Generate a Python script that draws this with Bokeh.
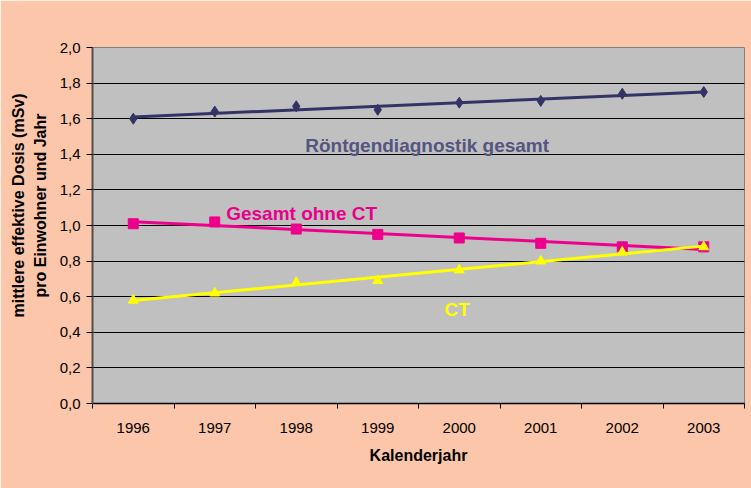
import numpy as np
from bokeh.plotting import figure
from bokeh.models import FixedTicker, CustomJSTickFormatter, Label, Range1d
from bokeh.embed import file_html
from bokeh.resources import INLINE

# ---- data ----
years = [1996, 1997, 1998, 1999, 2000, 2001, 2002, 2003]
roentgen = [1.60, 1.64, 1.67, 1.65, 1.69, 1.70, 1.74, 1.75]
ohne_ct = [1.01, 1.02, 0.98, 0.95, 0.93, 0.90, 0.88, 0.88]
ct = [0.58, 0.62, 0.68, 0.69, 0.75, 0.80, 0.85, 0.88]
y_ticks = [0.0, 0.2, 0.4, 0.6, 0.8, 1.0, 1.2, 1.4, 1.6, 1.8, 2.0]

FONT = "Liberation Sans"
PEACH = "#FBC6A9"
NAVY = "#333366"
PINK = "#EC008C"
YELLOW = "#FFFF00"

p = figure(width=751, height=488, output_backend="svg", toolbar_location=None,
           x_range=Range1d(years[0] - 0.5, years[-1] + 0.5),
           y_range=Range1d(y_ticks[0], y_ticks[-1]),
           min_border_left=92, min_border_right=7, min_border_top=47,
           min_border_bottom=85)
p.background_fill_color = "#C0C0C0"
p.border_fill_color = PEACH
p.outline_line_color = "#808080"
p.outline_line_width = 1

# grid
p.xgrid.grid_line_color = None
p.ygrid.ticker = FixedTicker(ticks=y_ticks)
p.ygrid.grid_line_color = "#000000"
p.ygrid.grid_line_width = 1

# y axis
p.yaxis.ticker = FixedTicker(ticks=y_ticks)
p.yaxis.formatter = CustomJSTickFormatter(code="return tick.toFixed(1).replace('.', ',');")
p.yaxis.axis_line_color = "#505050"
p.yaxis.axis_line_width = 2
p.yaxis.major_tick_out = 6
p.yaxis.major_tick_in = 0
p.yaxis.major_tick_line_color = "#000000"
p.yaxis.minor_tick_line_color = None
p.yaxis.major_label_standoff = 6
p.yaxis.major_label_text_font = FONT
p.yaxis.major_label_text_font_size = "15px"
p.yaxis.major_label_text_color = "#000000"
pad = "\u00a0" * 9
p.yaxis.axis_label = pad + "mittlere effektive Dosis (mSv)\n" + pad + "pro Einwohner und Jahr"
p.yaxis.axis_label_text_font = FONT
p.yaxis.axis_label_text_font_size = "16px"
p.yaxis.axis_label_text_font_style = "bold"
p.yaxis.axis_label_text_color = "#000000"
p.yaxis.axis_label_text_line_height = 1.3
p.yaxis.axis_label_standoff = 8

# x axis
bounds = [y - 0.5 for y in years] + [years[-1] + 0.5]
p.xaxis.ticker = FixedTicker(ticks=years, minor_ticks=bounds)
p.xaxis.axis_line_color = "#000000"
p.xaxis.axis_line_width = 1.5
p.xaxis.major_tick_out = 0
p.xaxis.major_tick_in = 0
p.xaxis.major_tick_line_color = None
p.xaxis.minor_tick_out = 5
p.xaxis.minor_tick_in = 0
p.xaxis.minor_tick_line_color = "#000000"
p.xaxis.major_label_standoff = 14
p.xaxis.major_label_text_font = FONT
p.xaxis.major_label_text_font_size = "15px"
p.xaxis.major_label_text_color = "#000000"
p.xaxis.axis_label = "Kalenderjahr"
p.xaxis.axis_label_text_font = FONT
p.xaxis.axis_label_text_font_size = "16px"
p.xaxis.axis_label_text_font_style = "bold"
p.xaxis.axis_label_text_color = "#000000"
p.xaxis.axis_label_standoff = 11

# series: trend line + markers
x = np.array(years, dtype=float)
ends = np.array([years[0], years[-1]], dtype=float)

def trend(vals):
    k = np.polyfit(x, np.array(vals), 1)
    return np.polyval(k, ends)

p.line(ends, trend(roentgen), line_color=NAVY, line_width=3)
p.scatter(years, roentgen, marker="diamond", size=11, fill_color=NAVY,
          line_color=NAVY, line_width=1)

p.line(ends, trend(ohne_ct), line_color=PINK, line_width=3)
p.scatter(years, ohne_ct, marker="square", size=10, fill_color=PINK,
          line_color=PINK, line_width=1)

p.line(ends, trend(ct), line_color=YELLOW, line_width=3)
p.scatter(years, ct, marker="triangle", size=10, fill_color=YELLOW,
          line_color=YELLOW, line_width=1)

# series labels
p.add_layout(Label(x=1998.11, y=1.449, text="Röntgendiagnostik gesamt",
                   text_font=FONT, text_font_size="19px", text_font_style="bold",
                   text_color="#55557F", text_align="left", text_baseline="alphabetic"))
p.add_layout(Label(x=1997.14, y=1.069, text="Gesamt ohne CT",
                   text_font=FONT, text_font_size="19px", text_font_style="bold",
                   text_color="#E6008A", text_align="left", text_baseline="alphabetic"))
p.add_layout(Label(x=1999.82, y=0.526, text="CT",
                   text_font=FONT, text_font_size="19px", text_font_style="bold",
                   text_color=YELLOW, text_align="left", text_baseline="alphabetic"))

open("out.html", "w").write(file_html(p, INLINE))
